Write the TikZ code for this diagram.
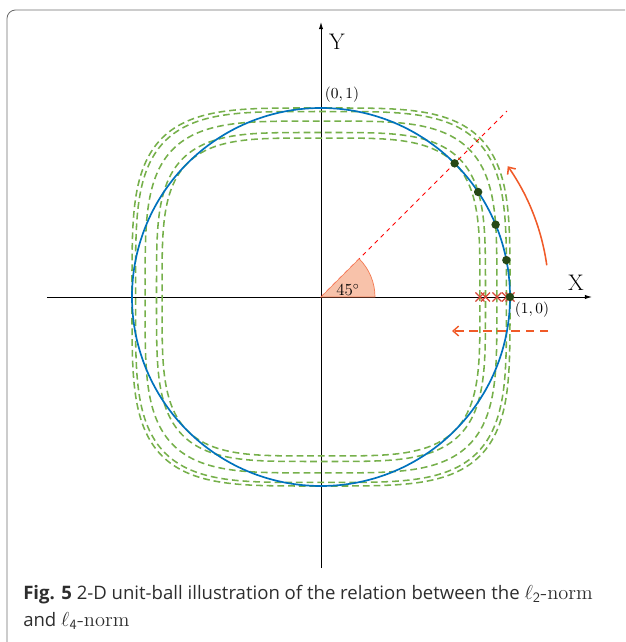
\documentclass[tikz,border=0pt]{standalone}
\usepackage{fontspec}
\newfontfamily\capfont{Open Sans}
\usetikzlibrary{arrows.meta, positioning, calc}
\definecolor{circblue}{RGB}{0,114,189}
\definecolor{normgreen}{RGB}{118,176,75}
\definecolor{arrorange}{RGB}{240,90,40}
\definecolor{dotgreen}{RGB}{38,72,22}
\definecolor{wedgefill}{RGB}{248,194,170}
\definecolor{crossred}{RGB}{215,70,55}
\definecolor{framegray}{RGB}{110,110,110}
\definecolor{captext}{RGB}{45,45,45}

\newcommand{\normname}[1]{{\rmfamily\fontsize{14.5}{14.5}\selectfont$\ell_{\mathsf{#1}}$-norm}}

\tikzset{
  axisline/.style={line width=0.6pt, -{Latex[length=5pt, width=3pt]}},
  normdash/.style={normgreen, line width=1.1pt, dash pattern=on 4.8pt off 2.8pt},
  ptdot/.style={circle, fill=dotgreen, inner sep=0pt, minimum size=6pt},
  orangearrow/.style={arrorange, line width=1.1pt, -{Straight Barb[length=4pt, width=7pt]}},
  captionstyle/.style={anchor=base west, text=captext, font=\capfont\fontsize{13.2}{13.2}\selectfont, inner sep=0pt},
}

\begin{document}
\begin{tikzpicture}[x=0.025cm, y=0.025cm]
  \useasboundingbox (-321,-345) rectangle (304,297);

  % frame
  \draw[framegray, line width=0.6pt, rounded corners=6pt] (-314,-345) -- (-314,287) -- (304,287);

  % axes
  \coordinate (O) at (0,0);
  \coordinate (xstart) at (-274,0);
  \coordinate (xend) at (271,0);
  \coordinate (ystart) at (0,-271);
  \coordinate (yend) at (0,275);
  \draw[axisline] (xstart) -- (xend);
  \draw[axisline] (ystart) -- (yend);
  \node[font=\fontsize{16}{16}\selectfont] (xlab) at (255,14) {X};
  \node[font=\fontsize{16}{16}\selectfont] (ylab) at (16,255) {Y};

  % l4 balls through the points on the circle
  \foreach \a in {45,33.75,22.5,11.25,0}{
    \pgfmathsetmacro{\r}{189*(cos(\a)^4+sin(\a)^4)^0.25}
    \draw[normdash] plot[domain=0:360, samples=361]
      ({\r*sign(cos(\x))*sqrt(abs(cos(\x)))}, {\r*sign(sin(\x))*sqrt(abs(sin(\x)))});
    \draw[crossred, line width=0.9pt] (\r-4.5,-4.5) -- (\r+4.5,4.5) (\r-4.5,4.5) -- (\r+4.5,-4.5);
  }

  % l2 ball
  \draw[circblue, line width=1.2pt] (O) circle[radius=189];

  % 45 degree line and wedge
  \coordinate (diagend) at (45:263);
  \draw[red, line width=0.7pt, dash pattern=on 3pt off 3pt] (O) -- (diagend);
  \filldraw[fill=wedgefill, draw=arrorange!80, line width=0.5pt] (O) -- (54,0) arc[start angle=0, end angle=45, radius=54] -- cycle;
  \node[font=\fontsize{12}{12}\selectfont] (anglelab) at (27,7) {$45^\circ$};

  % points
  \foreach \a [count=\i] in {45,33.75,22.5,11.25,0}{
    \node[ptdot] (p\i) at (\a:189) {};
  }
  \node[font=\fontsize{10.5}{10.5}\selectfont] (toplab) at (21,202) {$(0,1)$};
  \node[font=\fontsize{10.5}{10.5}\selectfont] (rightlab) at (211,-13) {$(1,0)$};

  % arrows
  \coordinate (arcstart) at (8:228);
  \draw[orangearrow] (arcstart) arc[start angle=8, end angle=35, radius=228];
  \coordinate (shiftstart) at (227,-34);
  \coordinate (shiftend) at (131,-34);
  \draw[orangearrow, line width=1pt, dash pattern=on 6pt off 4pt] (shiftstart) -- (shiftend);

  % caption
  \node[captionstyle] (capA) at (-298,-302)
    {\textbf{Fig. 5} 2-D unit-ball illustration of the relation between the \normname{2}};
  \node[captionstyle] (capB) at (-298,-329)
    {and \normname{4}};
\end{tikzpicture}
\end{document}
